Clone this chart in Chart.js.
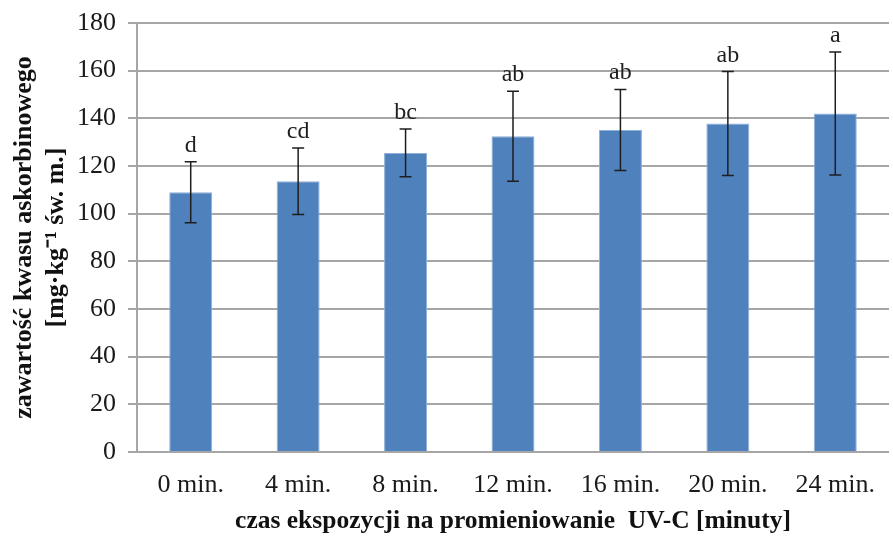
<!DOCTYPE html>
<html>
<head>
<meta charset="utf-8">
<script src="https://cdn.jsdelivr.net/npm/chart.js@4"></script>
<style>
  html, body { margin: 0; padding: 0; background: #fff; }
  #wrap { width: 893px; height: 537px; }
</style>
</head>
<body>
<div id="wrap"><canvas id="chart"></canvas></div>
<script>
// data
const categories = ['0 min.', '4 min.', '8 min.', '12 min.', '16 min.', '20 min.', '24 min.'];
const meanValues = [109, 113.6, 125.5, 132.5, 135.1, 137.8, 142];
const errorValues = [12.8, 14, 10, 18.9, 17, 21.8, 25.8];
const groupLetters = ['d', 'cd', 'bc', 'ab', 'ab', 'ab', 'a'];

const serif = '"Liberation Serif", "Times New Roman", serif';

// whiskers and significance letters
const errorBarPlugin = {
    id: 'errorBars',
    afterDatasetsDraw(chart) {
        const ctx = chart.ctx;
        const y = chart.scales.y;
        const meta = chart.getDatasetMeta(0);
        ctx.save();
        ctx.strokeStyle = '#1e1e1e';
        ctx.lineWidth = 1.5;
        meta.data.forEach(function(bar, i) {
            const top = y.getPixelForValue(meanValues[i] + errorValues[i]);
            const bottom = y.getPixelForValue(meanValues[i] - errorValues[i]);
            const x = bar.x;
            ctx.beginPath();
            ctx.moveTo(x, top);
            ctx.lineTo(x, bottom);
            ctx.moveTo(x - 6, top);
            ctx.lineTo(x + 6, top);
            ctx.moveTo(x - 6, bottom);
            ctx.lineTo(x + 6, bottom);
            ctx.stroke();

            ctx.fillStyle = '#1e1e1e';
            ctx.font = '24px ' + serif;
            ctx.textAlign = 'center';
            ctx.textBaseline = 'alphabetic';
            ctx.fillText(groupLetters[i], x, top - 10);
        });
        ctx.restore();
    }
};

new Chart(document.getElementById('chart'), {
    type: 'bar',
    data: {
        labels: categories,
        datasets: [{
            data: meanValues,
            backgroundColor: '#4f81bd',
            borderColor: '#8fb0d8',
            borderWidth: 1,
            barPercentage: 0.4,
            categoryPercentage: 1
        }]
    },
    options: {
        responsive: true,
        maintainAspectRatio: false,
        animation: false,
        layout: { padding: { top: 23, right: 0, bottom: 0, left: 0 } },
        plugins: {
            legend: { display: false },
            tooltip: { enabled: false }
        },
        scales: {
            x: {
                grid: { display: false, drawTicks: false },
                border: { display: true, color: '#a6a6a6', width: 2 },
                ticks: {
                    color: '#1a1a1a',
                    font: { family: serif, size: 26 },
                    padding: 18,
                    maxRotation: 0
                },
                title: {
                    display: true,
                    text: 'czas ekspozycji na promieniowanie  UV-C [minuty]',
                    color: '#111',
                    font: { family: serif, size: 25.5, weight: 'bold', lineHeight: 1.2 },
                    padding: 0
                },
                afterFit(scale) { scale.height = 85; }
            },
            y: {
                min: 0,
                max: 180,
                ticks: {
                    stepSize: 20,
                    color: '#1a1a1a',
                    // small lineHeight so the top label does not push the plot down
                    font: { family: serif, size: 26, lineHeight: 0.8 },
                    padding: 12
                },
                grid: { color: '#a6a6a6', lineWidth: 2, tickLength: 9 },
                border: { display: true, color: '#a6a6a6', width: 2 },
                title: {
                    display: true,
                    text: ['zawartość kwasu askorbinowego', '[mg·kg⁻¹ św. m.]'],
                    color: '#111',
                    font: { family: serif, size: 26, weight: 'bold', lineHeight: 1.2 },
                    padding: { top: 9, bottom: 0 }
                },
                afterFit(scale) { scale.width = 137; }
            }
        }
    },
    plugins: [errorBarPlugin]
});
</script>
</body>
</html>
